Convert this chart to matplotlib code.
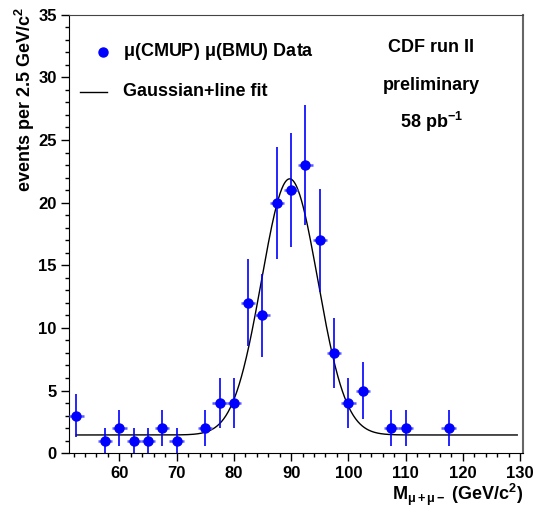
import numpy as np
import matplotlib
matplotlib.use("Agg")
import matplotlib.pyplot as plt
from matplotlib.ticker import MultipleLocator

plt.rcParams['font.family'] = ['Liberation Sans', 'DejaVu Sans']
plt.rcParams['font.weight'] = 'bold'
plt.rcParams['mathtext.fontset'] = 'custom'
plt.rcParams['mathtext.rm'] = 'Liberation Sans:bold'
plt.rcParams['mathtext.it'] = 'Liberation Sans'
plt.rcParams['mathtext.bf'] = 'Liberation Sans:bold'

# -------------------------------
# Data: dimuon mass histogram (bin width 2.5 GeV/c^2)
# -------------------------------
mass = np.array([52.5, 57.5, 60.0, 62.5, 65.0, 67.5, 70.0, 75.0, 77.5, 80.0,
                 82.5, 85.0, 87.5, 90.0, 92.5, 95.0, 97.5, 100.0, 102.5,
                 107.5, 110.0, 117.5])
counts = np.array([3, 1, 2, 1, 1, 2, 1, 2, 4, 4,
                   12, 11, 20, 21, 23, 17, 8, 4, 5,
                   2, 2, 2])
bin_half = 1.25

# Gaussian + line fit parameters
fit_const = 1.45
fit_amp = 20.45
fit_mean = 89.75
fit_sigma = 4.9
fit_range = (52.5, 129.5)

fig = plt.figure(figsize=(5.35, 5.08), dpi=100)
ax = fig.add_axes([0.1295, 0.108, 0.848, 0.863])

# fit curve
xf = np.linspace(fit_range[0], fit_range[1], 800)
yf = fit_const + fit_amp * np.exp(-0.5 * ((xf - fit_mean) / fit_sigma) ** 2)
ax.plot(xf, yf, color='black', lw=1.0, zorder=3)

# data points with errors
yerr = np.sqrt(counts)
ax.errorbar(mass, counts, xerr=bin_half, fmt='none', ecolor='#5a5aff',
            elinewidth=1.8, capsize=0, zorder=4)
ax.errorbar(mass, counts, yerr=yerr, fmt='none', ecolor='blue',
            elinewidth=1.2, capsize=0, zorder=4)
ax.plot(mass, counts, 'o', color='blue', markersize=6.5, zorder=5)

ax.set_xlim(51.25, 130.5)
ax.set_ylim(0, 35)
ax.xaxis.set_major_locator(MultipleLocator(10))
ax.xaxis.set_minor_locator(MultipleLocator(2))
ax.yaxis.set_major_locator(MultipleLocator(5))
ax.yaxis.set_minor_locator(MultipleLocator(1))
ax.tick_params(which='both', direction='out', top=False, right=False,
               labelsize=12, width=1.0)
ax.tick_params(which='major', length=6, pad=3)
ax.tick_params(which='minor', length=3)
for lab in ax.get_xticklabels() + ax.get_yticklabels():
    lab.set_fontweight('bold')
ax.spines['top'].set_color('#444444')
ax.spines['right'].set_color('#666666')
ax.spines['right'].set_linewidth(1.5)

# axis titles
fig.text(25 / 535, 1 - 7 / 508, 'events per 2.5 GeV/c$^{2}$', rotation=90,
         ha='center', va='top', fontsize=13, fontweight='bold')
fig.text(523 / 535, 1 - 500 / 508, r'M$_{\mu+\mu-}$ (GeV/c$^{2}$)',
         ha='right', va='baseline', fontsize=13, fontweight='bold')

# legend drawn by hand
ax.plot([(103 - 69.3) / 453.7], [1 - (52 - 14.7) / 438.3], 'o', color='blue',
        markersize=6.5, transform=ax.transAxes, clip_on=False)
ax.plot([(80 - 69.3) / 453.7, (107 - 69.3) / 453.7],
        [1 - (92 - 14.7) / 438.3] * 2, color='black', lw=1.0,
        transform=ax.transAxes)
fig.text(123 / 535, 1 - 52 / 508, r'$\mu$(CMUP) $\mu$(BMU) Data', ha='left',
         va='center', fontsize=13, fontweight='bold')
fig.text(123 / 535, 1 - 92 / 508, 'Gaussian+line fit', ha='left',
         va='center', fontsize=13, fontweight='bold')

# annotation
fig.text(431 / 535, 1 - 47.5 / 508, 'CDF run II', ha='center', va='center',
         fontsize=13, fontweight='bold')
fig.text(431 / 535, 1 - 85 / 508, 'preliminary', ha='center', va='center',
         fontsize=13, fontweight='bold')
fig.text(432 / 535, 1 - 122 / 508, '58 pb$^{-1}$', ha='center', va='center',
         fontsize=13, fontweight='bold')

fig.savefig('out.png', dpi=100)
